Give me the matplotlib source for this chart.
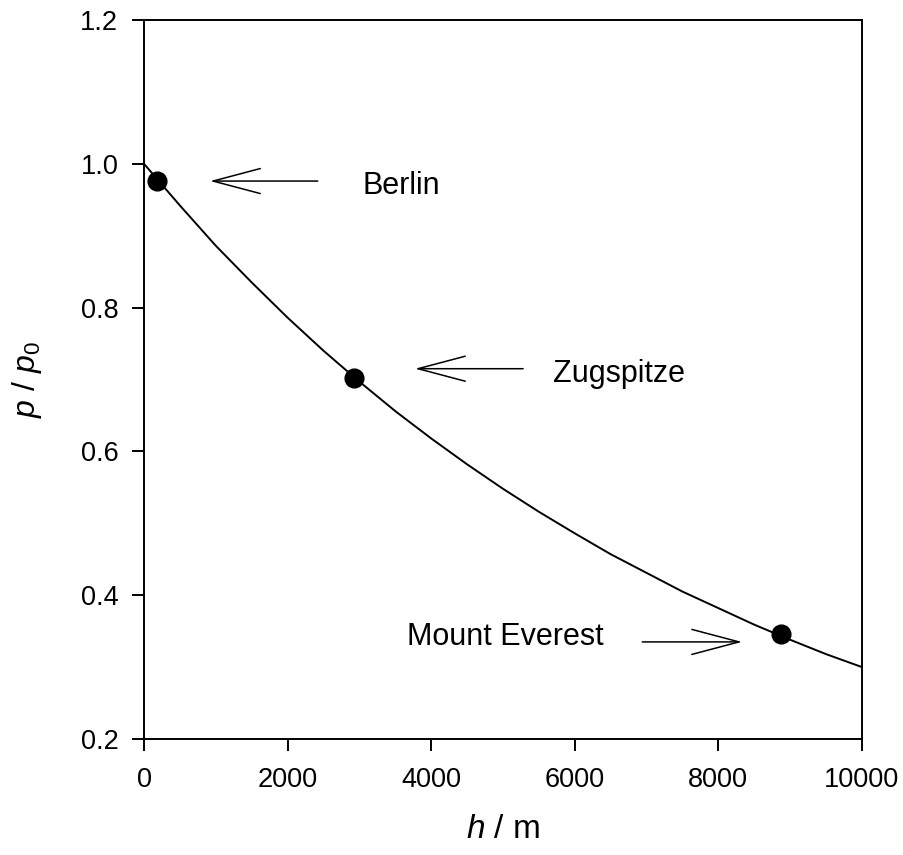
import matplotlib
matplotlib.use("Agg")
from matplotlib import pyplot as plt

plt.rcParams['font.family'] = ['Liberation Sans', 'DejaVu Sans']
plt.rcParams['mathtext.fontset'] = 'custom'
plt.rcParams['mathtext.rm'] = 'Liberation Sans'
plt.rcParams['mathtext.it'] = 'Liberation Sans:italic'

# curve (height in m, relative pressure)
heights = [0, 500, 1000, 1500, 2000, 2500, 3000, 3500, 4000, 4500, 5000,
           5500, 6000, 6500, 7000, 7500, 8000, 8500, 9000, 9500, 10000]
pressure = [1.000, 0.942, 0.886, 0.835, 0.786, 0.740, 0.697, 0.656, 0.618, 0.582, 0.548,
            0.516, 0.486, 0.457, 0.431, 0.405, 0.382, 0.359, 0.338, 0.318, 0.300]

# marked places
places = ['Berlin', 'Zugspitze', 'Mount Everest']
place_h = [180, 2925, 8870]
place_p = [0.976, 0.702, 0.346]

# labels and arrows: text position, arrow tail, arrow tip
text_pos = [(3050, 0.969), (5700, 0.708), (3660, 0.342)]
arrow_tail = [(2420, 0.976), (5280, 0.715), (6940, 0.335)]
arrow_tip = [(920, 0.976), (3775, 0.715), (8330, 0.335)]

fig = plt.figure(figsize=(9.04, 8.55), dpi=100)
ax = fig.add_axes([0.1593, 0.1357, 0.7942, 0.8409])

ax.plot(heights, pressure, color='black', lw=1.4)
ax.plot(place_h, place_p, 'o', color='black', ms=13.5)

for name, tp, tail, tip in zip(places, text_pos, arrow_tail, arrow_tip):
    ax.text(tp[0], tp[1], name, fontsize=22, ha='left', va='center')
    ax.annotate('', xy=tip, xytext=tail,
                arrowprops=dict(arrowstyle='->,head_length=34,head_width=9',
                                mutation_scale=1, lw=1.1, color='black',
                                shrinkA=0, shrinkB=0))

ax.set_xlim(0, 10000)
ax.set_ylim(0.2, 1.2)
ax.set_xticks([0, 2000, 4000, 6000, 8000, 10000])
ax.set_yticks([0.2, 0.4, 0.6, 0.8, 1.0, 1.2])
ax.set_yticklabels(['0.2', '0.4', '0.6', '0.8', '1.0', '1.2'])
ax.tick_params(direction='out', length=8.5, width=1.4, labelsize=19.5)
ax.tick_params(axis='x', pad=12)
ax.tick_params(axis='y', pad=10)
for s in ax.spines.values():
    s.set_linewidth(1.4)

ax.set_xlabel('$h$ / m', fontsize=24, labelpad=15)
ax.set_ylabel('$p$ / $p_0$', fontsize=23, labelpad=26)

plt.savefig('out.png', dpi=100)
